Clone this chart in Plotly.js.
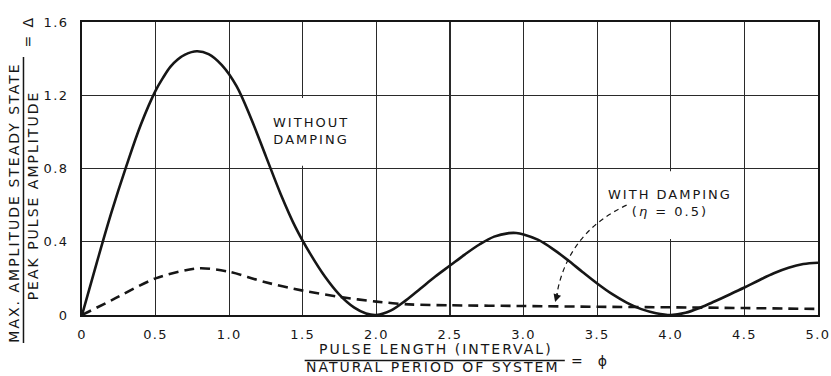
<!DOCTYPE html>
<html>
<head>
<meta charset="utf-8">
<script src="https://cdn.plot.ly/plotly-3.0.1.min.js"></script>
<style>
html, body { margin: 0; padding: 0; background: #fff; }
#chart { width: 831px; height: 376px; }
#chart svg text { letter-spacing: 1.4px; }
#chart svg .annotation-text { letter-spacing: 2px; }
</style>
</head>
<body>
<div id="chart"></div>
<script>
// Without damping (solid)
const undampedX = [0, 0.1, 0.2, 0.3, 0.4, 0.5, 0.55, 0.6, 0.65, 0.7, 0.78, 0.86, 0.95, 1.05, 1.15, 1.25, 1.35, 1.45, 1.55, 1.65, 1.75, 1.85, 1.93, 2.0, 2.1, 2.2, 2.3, 2.4, 2.5, 2.6, 2.7, 2.8, 2.9, 2.95, 3.0, 3.1, 3.2, 3.3, 3.4, 3.5, 3.6, 3.7, 3.8, 3.9, 4.0, 4.1, 4.2, 4.3, 4.4, 4.5, 4.6, 4.7, 4.8, 4.9, 5.0];
const undampedY = [0, 0.285, 0.56, 0.81, 1.04, 1.225, 1.295, 1.355, 1.395, 1.422, 1.44, 1.425, 1.365, 1.25, 1.07, 0.865, 0.66, 0.48, 0.335, 0.21, 0.11, 0.04, 0.008, 0.0, 0.025, 0.08, 0.145, 0.21, 0.27, 0.33, 0.385, 0.428, 0.447, 0.448, 0.44, 0.41, 0.36, 0.3, 0.235, 0.172, 0.115, 0.068, 0.032, 0.01, 0.0, 0.012, 0.04, 0.075, 0.112, 0.15, 0.19, 0.228, 0.258, 0.278, 0.285];
// With damping eta = 0.5 (dashed)
const dampedX = [0, 0.212, 0.5, 0.79, 1.0, 1.24, 1.5, 1.75, 2.0, 2.22, 2.5, 3.0, 3.5, 4.0, 4.5, 5.0];
const dampedY = [0, 0.085, 0.2, 0.255, 0.236, 0.18, 0.133, 0.099, 0.073, 0.058, 0.053, 0.049, 0.045, 0.042, 0.038, 0.033];

const xTickVals = [0, 0.5, 1.0, 1.5, 2.0, 2.5, 3.0, 3.5, 4.0, 4.5, 5.0];
const xTickText = ['0', '0.5', '1.0', '1.5', '2.0', '2.5', '3.0', '3.5', '4.0', '4.5', '5.0'];
const yTickVals = [0, 0.4, 0.8, 1.2, 1.6];
const yTickText = ['0', '0.4', '0.8', '1.2', '1.6'];

const FONT = 'DejaVu Sans, sans-serif';
const INK = '#161616';

const traces = [
  { x: undampedX, y: undampedY, type: 'scatter', mode: 'lines',
    line: { color: INK, width: 2.6, shape: 'spline', smoothing: 1 }, hoverinfo: 'skip' },
  { x: dampedX, y: dampedY, type: 'scatter', mode: 'lines',
    line: { color: INK, width: 2.6, dash: '10px,6px', shape: 'spline', smoothing: 0.8 }, hoverinfo: 'skip' }
];

const layout = {
  width: 831, height: 376,
  margin: { l: 82, r: 13, t: 22, b: 61 },
  paper_bgcolor: '#fff', plot_bgcolor: '#fff',
  showlegend: false,
  font: { family: FONT, size: 13, color: INK },
  xaxis: {
    range: [0, 5], tickvals: xTickVals, ticktext: xTickText,
    showgrid: true, gridcolor: '#2a2a2a', gridwidth: 1.4,
    zeroline: false, showline: true, mirror: true, linecolor: INK, linewidth: 2,
    ticks: '', ticklabelstandoff: 6, tickfont: { size: 13, family: FONT, color: INK }
  },
  yaxis: {
    range: [0, 1.6], tickvals: yTickVals, ticktext: yTickText,
    showgrid: true, gridcolor: '#2a2a2a', gridwidth: 1.4,
    zeroline: true, zerolinecolor: INK, zerolinewidth: 3,
    showline: true, mirror: true, linecolor: INK, linewidth: 2,
    ticks: '', ticklabelstandoff: 9, tickfont: { size: 13, family: FONT, color: INK }
  },
  shapes: [
    { type: 'line', xref: 'x', yref: 'y', x0: 1.5, x1: 1.5, y0: 0.815, y1: 1.185, line: { color: '#fff', width: 3 }, layer: 'above' },
    { type: 'line', xref: 'x', yref: 'y', x0: 4.0, x1: 4.0, y0: 0.415, y1: 0.785, line: { color: '#fff', width: 3 }, layer: 'above' },
    { type: 'path', xref: 'x', yref: 'y', path: 'M 3.70,0.60 Q 3.30,0.45 3.225,0.11', line: { color: INK, width: 1.2, dash: '5px,4px' }, layer: 'above' },
    { type: 'line', xref: 'paper', yref: 'paper', x0: -0.0795, x1: -0.0795, y0: -0.0956, y1: 0.8805, line: { color: INK, width: 1.5 } },
    { type: 'line', xref: 'paper', yref: 'paper', x0: 0.3025, x1: 0.656, y0: -0.1553, y1: -0.1553, line: { color: INK, width: 1.5 } }
  ],
  annotations: [
    { xref: 'x', yref: 'y', x: 1.554, y: 1.005, text: 'WITHOUT<br>DAMPING', showarrow: false,
      font: { size: 13, family: FONT, color: INK }, xanchor: 'center', yanchor: 'middle', align: 'center' },
    { xref: 'x', yref: 'y', x: 3.997, y: 0.612, text: 'WITH DAMPING<br>(<i>η</i> = 0.5)', showarrow: false,
      font: { size: 13, family: FONT, color: INK }, xanchor: 'center', yanchor: 'middle', align: 'center' },
    { xref: 'x', yref: 'y', x: 3.214, y: 0.071, ax: 3, ay: -10, text: '', showarrow: true,
      arrowhead: 2, arrowsize: 1.3, arrowwidth: 1.2, arrowcolor: INK, standoff: 0 },
    { xref: 'paper', yref: 'paper', x: -0.0918, y: 0.385, text: 'MAX. AMPLITUDE STEADY STATE', textangle: -90,
      showarrow: false, xanchor: 'center', yanchor: 'middle', font: { size: 14, family: FONT, color: INK } },
    { xref: 'paper', yref: 'paper', x: -0.0673, y: 0.41, text: 'PEAK PULSE AMPLITUDE', textangle: -90,
      showarrow: false, xanchor: 'center', yanchor: 'middle', font: { size: 14, family: FONT, color: INK } },
    { xref: 'paper', yref: 'paper', x: -0.0727, y: 0.969, text: '= Δ', textangle: -90,
      showarrow: false, xanchor: 'center', yanchor: 'middle', font: { size: 14, family: FONT, color: INK } },
    { xref: 'paper', yref: 'paper', x: 0.4806, y: -0.1161, text: 'PULSE LENGTH (INTERVAL)',
      showarrow: false, xanchor: 'center', yanchor: 'middle', font: { size: 14, family: FONT, color: INK } },
    { xref: 'paper', yref: 'paper', x: 0.4758, y: -0.1758, text: 'NATURAL PERIOD OF SYSTEM',
      showarrow: false, xanchor: 'center', yanchor: 'middle', font: { size: 14, family: FONT, color: INK } },
    { xref: 'paper', yref: 'paper', x: 0.690, y: -0.1553, text: '=  ϕ',
      showarrow: false, xanchor: 'center', yanchor: 'middle', font: { size: 14, family: FONT, color: INK } }
  ]
};

Plotly.newPlot('chart', traces, layout, { staticPlot: true, displayModeBar: false });
</script>
</body>
</html>
